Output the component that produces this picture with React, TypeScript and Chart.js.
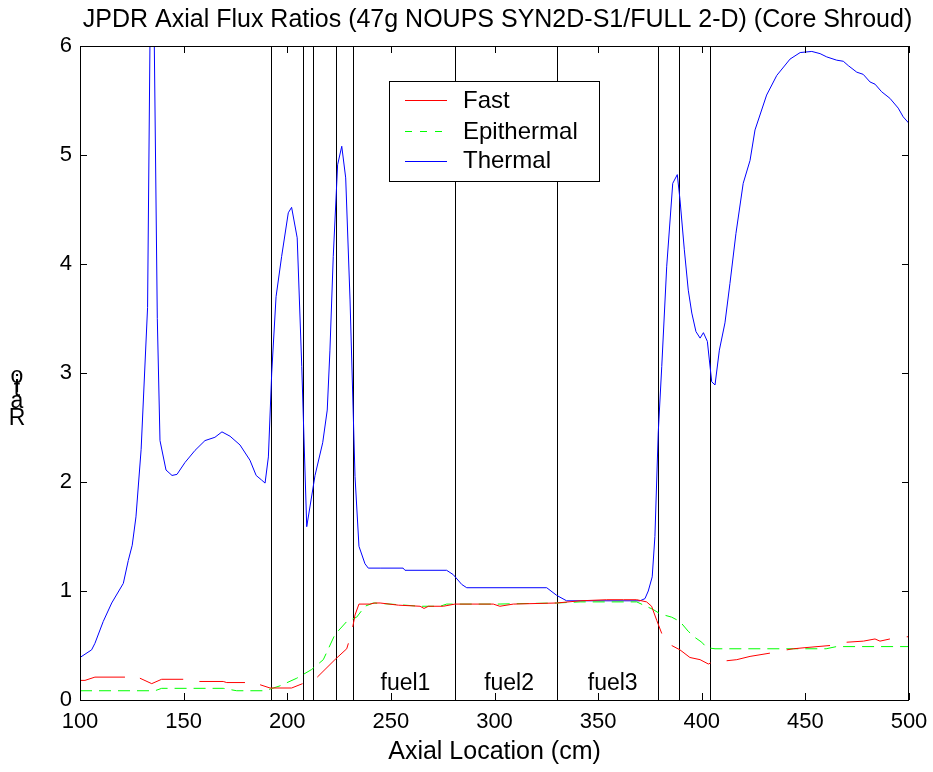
import React, { useEffect, useRef } from "react";
import { Chart, registerables } from "chart.js";

Chart.register(...registerables);

// ---------- data ----------
const titleText = "JPDR Axial Flux Ratios (47g NOUPS SYN2D-S1/FULL 2-D) (Core Shroud)";
const xAxisTitle = "Axial Location (cm)";
const yAxisTitle = "Ratio";
const seriesNames = ["Fast", "Epithermal", "Thermal"];

const xTicks = [100, 150, 200, 250, 300, 350, 400, 450, 500];
const yTicks = [0, 1, 2, 3, 4, 5, 6];

const regionBoundaries = [192.2, 207.6, 212.4, 223.5, 231.7, 280.9, 330.2, 378.9, 389.0, 404.0];

const fuelLabels = ["fuel1", "fuel2", "fuel3"];
const fuelLabelX = [245, 295, 345];
const fuelLabelY = [0.09, 0.09, 0.09];

const thermalX = [
  100, 105.6, 107.2, 111.2, 115.3, 120.9, 123.3, 125.2, 127.0, 129.5, 132.6, 134.7, 137.3, 138.6,
  141.5, 144.4, 146.8, 150.7, 155.5, 160.3, 165.1, 168.5, 172.4, 177.2, 182.0, 185.0, 187.5, 189.3,
  190.9, 192.5, 194.6, 197.3, 200.5, 202.1, 204.8, 207.0, 209.4, 213.4, 217.1, 219.3, 220.6, 222.2,
  224.3, 226.3, 228.2, 230.3, 232.7, 234.6, 237.5, 239.1, 244.8, 255.9, 256.8, 276.9, 280.1, 284.2,
  286.6, 325.2, 330.0, 334.8, 370.2, 372.6, 374.2, 376.1, 377.4, 379.0, 380.7, 383.1, 386.0, 388.2,
  389.5, 391.6, 393.5, 395.2, 397.2, 399.2, 400.8, 402.7, 404.8, 406.4, 408.5, 411.2, 413.6, 416.5,
  420.0, 423.3, 425.7, 431.3, 436.2, 442.6, 447.5, 453.1, 457.1, 460.3, 465.1, 468.3, 470.7, 474.8,
  477.9, 481.2, 483.6, 486.8, 490.8, 494.8, 497.2, 500,
];
const thermalY = [
  0.39, 0.46, 0.52, 0.72, 0.89, 1.07, 1.28, 1.42, 1.68, 2.3, 3.6, 8.0, 3.5, 2.38,
  2.11, 2.06, 2.07, 2.18, 2.29, 2.38, 2.41, 2.46, 2.42, 2.34, 2.2, 2.06, 2.02, 1.99,
  2.23, 3.0, 3.7, 4.07, 4.47, 4.52, 4.24, 3.06, 1.59, 2.06, 2.36, 2.66, 3.21, 4.07,
  4.91, 5.08, 4.79, 3.67, 2.05, 1.41, 1.25, 1.21, 1.21, 1.21, 1.19, 1.19, 1.15, 1.06,
  1.03, 1.03, 0.96, 0.91, 0.91, 0.93, 1.0, 1.13, 1.5, 2.45, 3.06, 3.98, 4.74, 4.82,
  4.59, 4.13, 3.76, 3.55, 3.38, 3.32, 3.37, 3.29, 2.92, 2.89, 3.21, 3.46, 3.82, 4.28,
  4.74, 4.95, 5.23, 5.55, 5.73, 5.88, 5.94, 5.95, 5.93, 5.9, 5.87, 5.86, 5.82, 5.76,
  5.74, 5.67, 5.65, 5.58, 5.52, 5.43, 5.35, 5.29,
];

const fastX = [
  100, 102.4, 107.2, 121.7, 124, 128.9, 134.6, 139.4, 149.8, 153, 157.6, 169.1, 170.8, 179.6, 183,
  186.9, 191.7, 196.5, 202.1, 207.4, 211, 214.5, 223.0, 228.7, 229.5, 230.5, 231.6, 232.7, 234.6,
  239.9, 242.3, 244.8, 253.6, 264.1, 266.0, 268.1, 275.3, 280.9, 299.4, 302.6, 309.1, 330.0, 341.3,
  354.1, 362.2, 368.6, 373.4, 375.8, 378.3, 380.7, 383, 385.5, 389.5, 394.3, 399.2, 403.2, 404.3,
  408, 412.0, 416.9, 423.3, 432.9, 437, 441.0, 444.2, 449.8, 461.9, 466, 469.9, 478.0, 483.6, 486.0,
  490.8, 495, 498.9, 500,
];
const fastY = [
  0.18, 0.18, 0.21, 0.21, null, 0.2, 0.15, 0.19, 0.19, null, 0.17, 0.17, 0.16, 0.16, null,
  0.14, 0.11, 0.11, 0.11, 0.15, null, 0.21, 0.37, 0.47, 0.52, null, 0.67, 0.78, 0.88,
  0.88, 0.89, 0.89, 0.87, 0.86, 0.84, 0.86, 0.86, 0.88, 0.88, 0.86, 0.88, 0.89, 0.91,
  0.92, 0.92, 0.92, 0.9, 0.86, 0.73, 0.61, null, 0.5, 0.46, 0.39, 0.37, 0.33, 0.34,
  null, 0.36, 0.37, 0.4, 0.43, null, 0.46, 0.47, 0.48, 0.5, null, 0.53, 0.54, 0.56, 0.54,
  0.56, null, 0.58, 0.58,
];

const epiX = [
  100, 136.2, 139.4, 169.1, 175.6, 189.3, 196.5, 204.6, 211.8, 217.4, 223.0, 228.7, 233.5, 237.5,
  241.5, 249.6, 264.1, 273.7, 276.9, 301.1, 330.0, 341.3, 368.6, 376.6, 379.9, 385.5, 389.5, 393.5,
  397.0, 400.0, 402.4, 406.4, 460, 465, 500,
];
const epiY = [
  0.085, 0.085, 0.107, 0.107, 0.085, 0.085, 0.13, 0.2, 0.28, 0.37, 0.6, 0.72, 0.76, 0.86,
  0.89, 0.88, 0.86, 0.86, 0.88, 0.88, 0.89, 0.9, 0.9, 0.83, 0.79, 0.76, 0.72, 0.63,
  0.57, 0.53, 0.48, 0.47, 0.47, 0.49, 0.49,
];

// ---------- styling ----------
const FONT = "Arial, 'Liberation Sans', Helvetica, sans-serif";
const seriesColors = ["#ff0000", "#00ff00", "#0000ff"];

const toPoints = (xs: number[], ys: (number | null)[]) => xs.map((x, i) => ({ x, y: ys[i] }));

const overlayPlugin = {
  id: "matlabOverlay",
  beforeDatasetsDraw(chart: any) {
    const { ctx, chartArea: a, scales } = chart;
    const xs = scales.x;
    ctx.save();
    ctx.strokeStyle = "#000";
    ctx.lineWidth = 1;
    regionBoundaries.forEach((v) => {
      const px = Math.round(xs.getPixelForValue(v)) + 0.5;
      ctx.beginPath();
      ctx.moveTo(px, a.top);
      ctx.lineTo(px, a.bottom);
      ctx.stroke();
    });
    ctx.restore();
  },
  afterDraw(chart: any) {
    const { ctx, chartArea: a, scales } = chart;
    const xs = scales.x;
    const ys = scales.y;
    ctx.save();
    ctx.strokeStyle = "#000";
    ctx.lineWidth = 1;
    // box
    ctx.strokeRect(a.left + 0.5, a.top + 0.5, a.right - a.left - 1, a.bottom - a.top);
    // inward ticks
    const tl = 7;
    ctx.beginPath();
    xTicks.forEach((v) => {
      const px = Math.round(xs.getPixelForValue(v)) + 0.5;
      ctx.moveTo(px, a.bottom);
      ctx.lineTo(px, a.bottom - tl);
      ctx.moveTo(px, a.top);
      ctx.lineTo(px, a.top + tl);
    });
    yTicks.forEach((v) => {
      const py = Math.round(ys.getPixelForValue(v)) + 0.5;
      ctx.moveTo(a.left, py);
      ctx.lineTo(a.left + tl, py);
      ctx.moveTo(a.right, py);
      ctx.lineTo(a.right - tl, py);
    });
    ctx.stroke();

    ctx.fillStyle = "#000";
    // fuel labels
    ctx.font = `23px ${FONT}`;
    ctx.textAlign = "left";
    ctx.textBaseline = "alphabetic";
    fuelLabels.forEach((t, i) => {
      ctx.fillText(t, xs.getPixelForValue(fuelLabelX[i]), ys.getPixelForValue(fuelLabelY[i]));
    });

    // title
    ctx.font = `25px ${FONT}`;
    ctx.textAlign = "center";
    ctx.fillText(titleText, (a.left + a.right) / 2 + 3, 27);
    // x title
    ctx.fillText(xAxisTitle, (a.left + a.right) / 2, 759);

    // y title: upright glyphs stacked bottom-to-top
    ctx.font = `23px ${FONT}`;
    const chars = yAxisTitle.split("");
    const baselines = [425, 408, 396, 392, 383];
    chars.forEach((c, i) => {
      ctx.fillText(c, 17, baselines[i] ?? 383 - (i - 4) * 10);
    });

    // legend
    const lx = 389, ly = 81, lw = 210, lh = 100;
    ctx.fillStyle = "#fff";
    ctx.fillRect(lx, ly, lw, lh);
    ctx.strokeStyle = "#000";
    ctx.strokeRect(lx + 0.5, ly + 0.5, lw, lh);
    const rows = [100, 131, 161];
    const baseY = [108, 139, 168];
    chart.data.datasets.forEach((ds: any, i: number) => {
      ctx.strokeStyle = ds.borderColor;
      ctx.lineWidth = 1;
      ctx.setLineDash(ds.borderDash && ds.borderDash.length ? [7, 8] : []);
      ctx.beginPath();
      ctx.moveTo(405, rows[i] + 0.5);
      ctx.lineTo(447, rows[i] + 0.5);
      ctx.stroke();
      ctx.setLineDash([]);
      ctx.fillStyle = "#000";
      ctx.font = `24px ${FONT}`;
      ctx.textAlign = "left";
      ctx.fillText(ds.label, 463, baseY[i]);
    });
    ctx.restore();
  },
};

export default function App() {
  const canvasRef = useRef<HTMLCanvasElement | null>(null);

  useEffect(() => {
    const canvas = canvasRef.current;
    if (!canvas) return;
    const chart = new Chart(canvas, {
      type: "line",
      data: {
        datasets: [
          {
            label: seriesNames[0],
            data: toPoints(fastX, fastY),
            borderColor: seriesColors[0],
            borderWidth: 1,
            pointRadius: 0,
            tension: 0,
            spanGaps: false,
            clip: 0,
          },
          {
            label: seriesNames[1],
            data: toPoints(epiX, epiY),
            borderColor: seriesColors[1],
            borderWidth: 1,
            borderDash: [12, 7],
            pointRadius: 0,
            tension: 0,
            clip: 0,
          },
          {
            label: seriesNames[2],
            data: toPoints(thermalX, thermalY),
            borderColor: seriesColors[2],
            borderWidth: 1,
            pointRadius: 0,
            tension: 0,
            clip: 0,
          },
        ],
      },
      options: {
        animation: false,
        responsive: false,
        events: [],
        layout: { autoPadding: false, padding: { left: 0, top: 46, right: 24, bottom: 0 } },
        plugins: {
          legend: { display: false },
          title: { display: false },
          tooltip: { enabled: false },
        },
        scales: {
          x: {
            type: "linear",
            min: 100,
            max: 500,
            grid: { display: false, drawTicks: false },
            border: { display: false },
            afterBuildTicks: (scale: any) => {
              scale.ticks = xTicks.map((v) => ({ value: v }));
            },
            afterFit: (scale: any) => {
              scale.height = 72;
              scale.paddingLeft = 0;
              scale.paddingRight = 0;
            },
            ticks: {
              autoSkip: false,
              maxRotation: 0,
              padding: 9,
              color: "#000",
              font: { family: FONT, size: 22 },
            },
          },
          y: {
            type: "linear",
            min: 0,
            max: 6,
            grid: { display: false, drawTicks: false },
            border: { display: false },
            afterBuildTicks: (scale: any) => {
              scale.ticks = yTicks.map((v) => ({ value: v }));
            },
            afterFit: (scale: any) => {
              scale.width = 80;
              scale.paddingTop = 0;
              scale.paddingBottom = 0;
            },
            ticks: {
              padding: 8,
              color: "#000",
              font: { family: FONT, size: 22 },
            },
          },
        },
      },
      plugins: [overlayPlugin],
    } as any);
    return () => chart.destroy();
  }, []);

  return (
    <div style={{ position: "absolute", left: 0, top: 0, width: 933, height: 772, background: "#fff" }}>
      <canvas ref={canvasRef} width={933} height={772} style={{ display: "block" }} />
    </div>
  );
}
